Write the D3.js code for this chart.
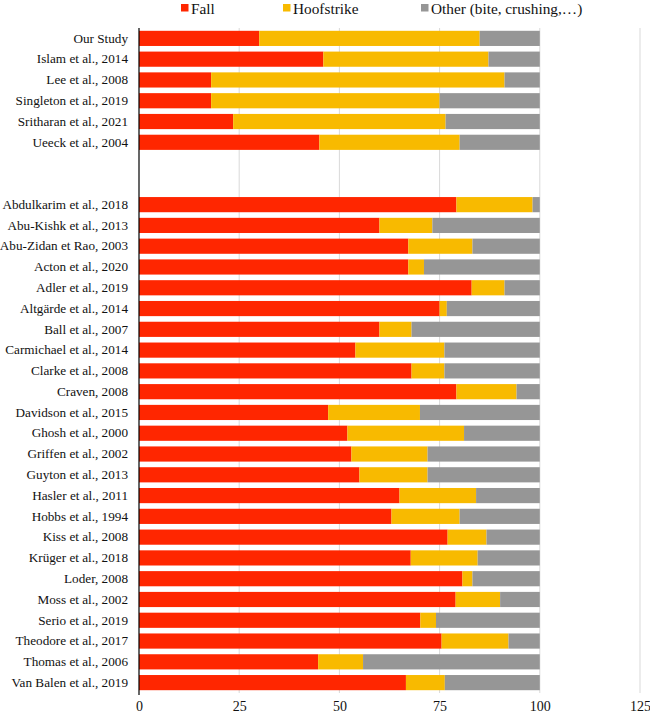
<!DOCTYPE html>
<html><head><meta charset="utf-8">
<script src="https://cdn.jsdelivr.net/npm/d3@7"></script>
<style>body{margin:0;background:#fff}svg{display:block}
svg text{font-family:"Liberation Serif","Tinos","Times New Roman","DejaVu Serif","Noto Serif",serif !important}</style>
</head><body><div id="chart"></div>
<script>
const categories = ["Our Study","Islam et al., 2014","Lee et al., 2008","Singleton et al., 2019","Sritharan et al., 2021","Ueeck et al., 2004","",
" ","Abdulkarim et al., 2018","Abu-Kishk et al., 2013","Abu-Zidan et Rao, 2003","Acton et al., 2020","Adler et al., 2019","Altgärde et al., 2014","Ball et al., 2007","Carmichael et al., 2014","Clarke et al., 2008","Craven, 2008","Davidson et al., 2015","Ghosh et al., 2000","Griffen et al., 2002","Guyton et al., 2013","Hasler et al., 2011","Hobbs et al., 1994","Kiss et al., 2008","Krüger et al., 2018","Loder, 2008","Moss et al., 2002","Serio et al., 2019","Theodore et al., 2017","Thomas et al., 2006","Van Balen et al., 2019"];
const fall =       [30,46,18,18,23.5,45,null,null,79.2,60,67.2,67.2,83,75,60,54,68,79.2,47.2,52,53,55,65,63,77,67.8,80.7,79,70.2,75.5,44.7,66.6];
const hoofstrike = [55,41.2,73.2,57,53,35,null,null,19,13.2,16,3.9,8.2,1.8,8,22.2,8.2,15,22.9,29.1,19,17,19.1,17,9.7,16.7,2.5,11.1,3.9,16.7,11.2,9.7];
const other =      categories.map((c,i)=> fall[i]==null ? null : +(100 - fall[i] - hoofstrike[i]).toFixed(1));
const seriesNames = ["Fall","Hoofstrike","Other (bite, crushing,…)"];
const seriesColors = ["#ff2600","#f8ba00","#969696"];
const xTicks = [0,25,50,75,100,125];

const FONT = "'Liberation Serif','Tinos','Times New Roman','DejaVu Serif','Noto Serif',serif";
const W=650,H=716, m={top:28,left:139};
const svg=d3.select("#chart").append("svg").attr("width",W).attr("height",H);
const x=d3.scaleLinear().domain([0,125]).range([m.left,640]);
const y=d3.scaleBand().domain(categories).range([m.top,693]).paddingInner(0.27).paddingOuter(0.135);

svg.append("g").selectAll("line").data(xTicks.slice(1)).join("line")
 .attr("x1",d=>x(d)).attr("x2",d=>x(d)).attr("y1",m.top).attr("y2",693)
 .attr("stroke","#d9d9d9").attr("stroke-width",1);

const rows = categories.map((c,i)=>({c,vals:[fall[i],hoofstrike[i],other[i]]})).filter(r=>r.vals[0]!=null);
const stack = rows.flatMap(r=>{let acc=0;return r.vals.map((v,k)=>{const s={c:r.c,k,x0:acc,x1:acc+v};acc+=v;return s;});});
svg.append("g").selectAll("rect").data(stack).join("rect")
 .attr("x",d=>x(d.x0)).attr("width",d=>x(d.x1)-x(d.x0))
 .attr("y",d=>y(d.c)).attr("height",y.bandwidth())
 .attr("fill",d=>seriesColors[d.k]);

const ya=svg.append("g").attr("transform",`translate(${m.left},0)`)
 .call(d3.axisLeft(y).tickSize(0).tickPadding(11));
ya.attr("font-family",null);
ya.select(".domain").attr("stroke","#000").attr("stroke-width",1.2).attr("d",`M0,${m.top}V695`);
ya.selectAll("text").attr("font-size",13.2).attr("fill","#111").style("font-family",FONT);

const xa=svg.append("g").attr("transform",`translate(0,695)`)
 .call(d3.axisBottom(x).tickValues(xTicks).tickSize(0).tickPadding(6));
xa.attr("font-family",null);
xa.select(".domain").remove();
xa.selectAll("text").attr("font-size",14).attr("fill","#111").style("font-family",FONT);

const legX=[181,283,421];
const lg=svg.append("g").selectAll("g").data(seriesNames).join("g")
 .attr("transform",(d,i)=>`translate(${legX[i]},0)`);
lg.append("rect").attr("x",0).attr("y",4).attr("width",7.5).attr("height",7.5).attr("fill",(d,i)=>seriesColors[i]);
lg.append("text").attr("x",10).attr("y",14).attr("font-size",15.3).attr("fill","#111").style("font-family",FONT).text(d=>d);
</script></body></html>
